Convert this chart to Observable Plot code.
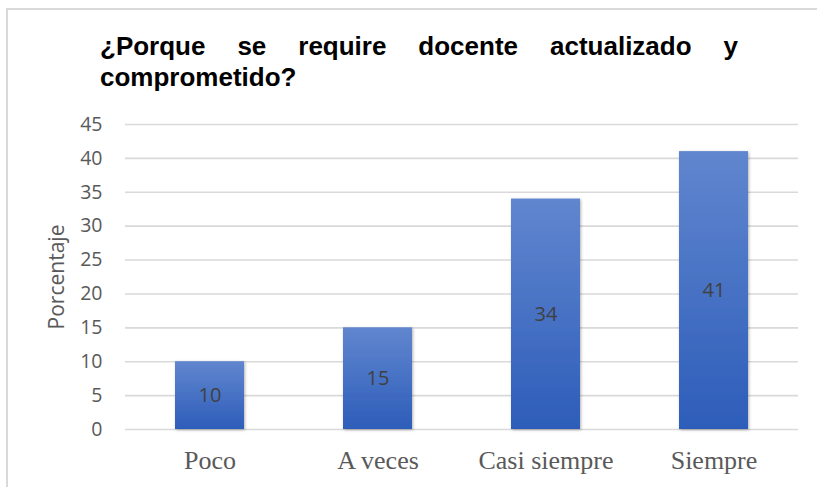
<!DOCTYPE html>
<html>
<head>
<meta charset="utf-8">
<script src="https://cdn.jsdelivr.net/npm/d3@7"></script>
<script src="https://cdn.jsdelivr.net/npm/@observablehq/plot@0.6"></script>
<style>
  html, body { margin: 0; padding: 0; background: #fff; }
  #wrap { position: relative; width: 817px; height: 487px; overflow: hidden; background: #fff; }
  #frame { position: absolute; left: 6px; top: 8px; width: 900px; height: 600px;
           border-left: 2px solid #d9d9d9; border-top: 2px solid #d9d9d9; }
  #title { position: absolute; left: 100px; top: 31px; width: 638px;
           font-family: "Liberation Sans", Arial, sans-serif; font-weight: bold;
           font-size: 26px; line-height: 31px; color: #000;
           text-align: justify; text-align-last: left; }
  #chart { position: absolute; left: 0; top: 0; }
</style>
</head>
<body>
<div id="wrap">
  <div id="frame"></div>
  <div id="chart"></div>
  <div id="title">¿Porque se require docente actualizado y comprometido?</div>
</div>
<script>
const categories = ["Poco", "A veces", "Casi siempre", "Siempre"];
const values = [10, 15, 34, 41];
const yTicks = [0, 5, 10, 15, 20, 25, 30, 35, 40, 45];
const yLabel = "Porcentaje";

const data = categories.map((c, i) => ({category: c, value: values[i]}));

const plot = Plot.plot({
  width: 817,
  height: 487,
  marginLeft: 125,
  marginRight: 19,
  marginTop: 124,
  marginBottom: 58,
  style: {background: "transparent", overflow: "visible"},
  x: {domain: categories, paddingInner: 0.59, paddingOuter: 0.295, label: null},
  y: {domain: [0, 45], label: null},
  marks: [
    Plot.gridY(yTicks, {stroke: "#d9d9d9", strokeOpacity: 1, strokeWidth: 1.6}),
    Plot.barY(data, {x: "category", y: "value", fill: "#4472c4"}),
    Plot.text(data, {x: "category", y: d => d.value / 2, text: d => String(d.value),
      fill: "#404040", fontSize: 20, fontFamily: "Open Sans, sans-serif"}),
    Plot.axisY(yTicks, {tickSize: 0, tickPadding: 23, fontSize: 19.5,
      fontFamily: "Open Sans, sans-serif", color: "#595959", label: null}),
    Plot.axisX({tickSize: 0, tickPadding: 21, fontSize: 26,
      fontFamily: "Liberation Serif, Times New Roman, serif", color: "#595959", label: null}),
    Plot.text([yLabel], {frameAnchor: "left", textAnchor: "middle", dx: -68, rotate: -90, text: d => d,
      fill: "#595959", fontSize: 21, fontFamily: "Open Sans, sans-serif"})
  ]
});

const svg = d3.select(plot);
const defs = svg.insert("defs", ":first-child");
const grad = defs.append("linearGradient").attr("id", "barGrad")
  .attr("x1", 0).attr("y1", 0).attr("x2", 0).attr("y2", 1);
grad.append("stop").attr("offset", "0%").attr("stop-color", "#6186cf");
grad.append("stop").attr("offset", "100%").attr("stop-color", "#2d5db9");
const f = defs.append("filter").attr("id", "barShadow")
  .attr("x", "-20%").attr("y", "-20%").attr("width", "140%").attr("height", "140%");
f.append("feDropShadow").attr("dx", 1).attr("dy", 1).attr("stdDeviation", 1.6)
  .attr("flood-color", "#000").attr("flood-opacity", 0.3);
svg.selectAll('g[aria-label="bar"] rect')
  .attr("fill", "url(#barGrad)")
  .attr("filter", "url(#barShadow)");

document.getElementById("chart").appendChild(plot);
</script>
</body>
</html>
